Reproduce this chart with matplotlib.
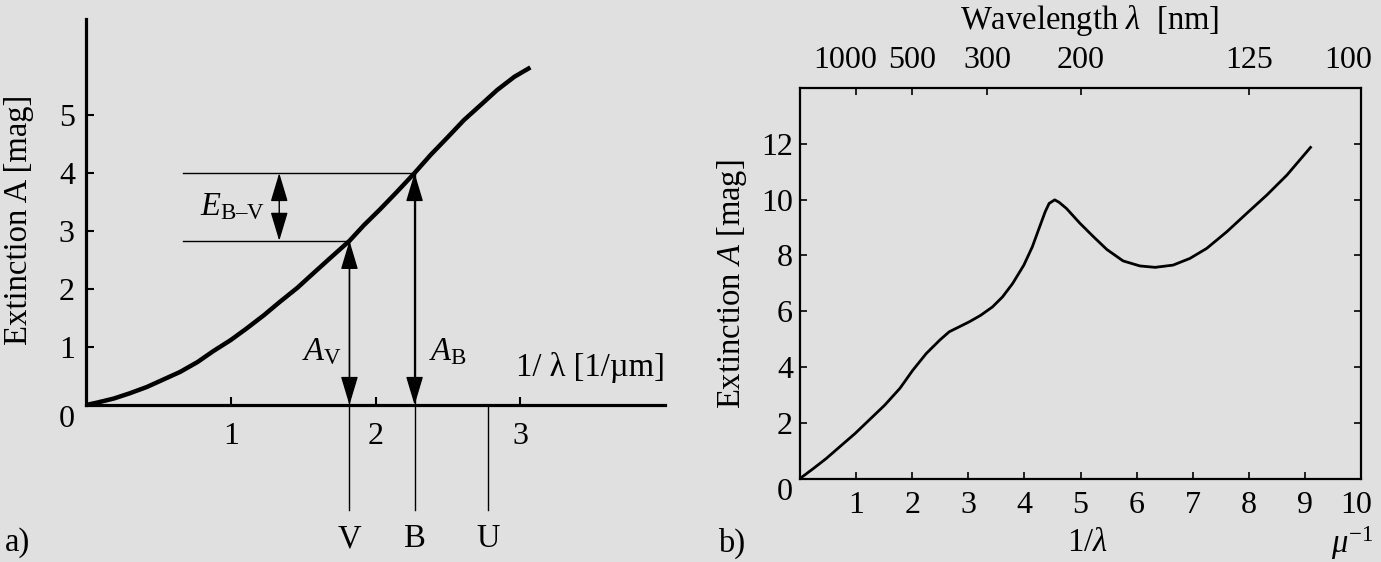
import matplotlib
matplotlib.use("Agg")
import matplotlib.pyplot as plt
from matplotlib.transforms import ScaledTranslation

# ---- data -------------------------------------------------------------
# a) schematic extinction curve A(1/lambda)
curve_a_x = [0.0, 0.074, 0.19, 0.30, 0.42, 0.535, 0.65, 0.77, 0.88, 1.0, 1.11, 1.23, 1.34, 1.46,
             1.57, 1.69, 1.82, 1.92, 2.03, 2.15, 2.27, 2.38, 2.50, 2.61, 2.73, 2.84, 2.96, 3.07]
curve_a_y = [0.0, 0.04, 0.11, 0.20, 0.31, 0.44, 0.57, 0.74, 0.93, 1.12, 1.32, 1.55, 1.78, 2.02,
             2.27, 2.54, 2.83, 3.10, 3.37, 3.68, 4.00, 4.31, 4.62, 4.91, 5.18, 5.43, 5.66, 5.82]

band_names = ["V", "B", "U"]
band_pos = [1.82, 2.27, 2.78]        # 1/lambda [1/um]
band_ext = [2.83, 4.00, None]        # A at the band (None: no arrow)
a_yticks = [0, 1, 2, 3, 4, 5]
a_xticks = [1, 2, 3]

# b) observed interstellar extinction curve
curve_b_x = [0.0, 0.24, 0.47, 0.71, 0.98, 1.24, 1.51, 1.78, 2.01, 2.25, 2.49, 2.66, 2.84, 3.02,
             3.22, 3.43, 3.61, 3.79, 3.99, 4.14, 4.26, 4.37, 4.44, 4.54, 4.62, 4.75, 4.99, 5.23,
             5.47, 5.76, 6.06, 6.33, 6.65, 6.95, 7.25, 7.61, 7.96, 8.32, 8.68, 9.10]
curve_b_y = [0.0, 0.36, 0.72, 1.14, 1.61, 2.11, 2.63, 3.23, 3.88, 4.48, 4.96, 5.26, 5.44, 5.62,
             5.85, 6.15, 6.51, 6.99, 7.65, 8.30, 8.96, 9.56, 9.86, 9.99, 9.90, 9.68, 9.15, 8.67,
             8.21, 7.80, 7.62, 7.57, 7.65, 7.89, 8.25, 8.85, 9.50, 10.16, 10.88, 11.87]
b_xticks = [1, 2, 3, 4, 5, 6, 7, 8, 9, 10]
b_yticks = [0, 2, 4, 6, 8, 10, 12]
wavelength_nm = [1000, 500, 300, 200, 125, 100]

# ---- style ------------------------------------------------------------
plt.rcParams["font.family"] = ["Liberation Serif", "DejaVu Serif"]
plt.rcParams["mathtext.fontset"] = "custom"
plt.rcParams["mathtext.rm"] = "Liberation Serif"
plt.rcParams["mathtext.it"] = "Liberation Serif:italic"
plt.rcParams["mathtext.bf"] = "Liberation Serif:bold"
FS = 23.5      # labels
TFS = 23       # tick labels
BG = "#e0e0e0"

W, H = 1381, 562
fig = plt.figure(figsize=(W / 100, H / 100), dpi=100, facecolor=BG)


def px_box(x0, y0, x1, y1):
    # pixel box (top-left origin) -> figure fraction rect
    return [x0 / W, 1 - y1 / H, (x1 - x0) / W, (y1 - y0) / H]


def nudge(label, dx_px):
    label.set_transform(label.get_transform()
                        + ScaledTranslation(dx_px / 100, 0, fig.dpi_scale_trans))


# ======================= panel a) =======================================
axL = fig.add_axes(px_box(86, 19, 665, 405))
axL.patch.set_visible(False)
axL.set_xlim(0, 4.0)
axL.set_ylim(0, (405 - 19) / 58)
for s in ("top", "right"):
    axL.spines[s].set_visible(False)
for s in ("left", "bottom"):
    axL.spines[s].set_linewidth(2.3)
axL.set_xticks(a_xticks)
axL.set_yticks(a_yticks)
axL.tick_params(axis="both", direction="in", length=6, width=1.5, labelsize=TFS)
axL.tick_params(axis="x", pad=12)
axL.tick_params(axis="y", pad=8)
axL.get_yticklabels()[0].set_va("top")

axL.plot(curve_a_x, curve_a_y, color="black", lw=3.2, solid_capstyle="butt")

arrow = dict(arrowstyle="<|-|>,head_length=0.9,head_width=0.27", mutation_scale=20,
             color="black", lw=1.0, shrinkA=0, shrinkB=0)

y_low = -1.81
for name, xb, ab in zip(band_names, band_pos, band_ext):
    top = ab if ab is not None else 0
    axL.plot([xb, xb], [y_low, top], color="black", lw=1.0, clip_on=False)
    if ab is not None:
        axL.annotate("", xy=(xb, ab), xytext=(xb, 0), arrowprops=arrow, annotation_clip=False)
    axL.text(xb, -2.31, name, fontsize=FS, ha="center", va="center", clip_on=False)

# horizontal guide lines and colour excess arrow
x_guide = 0.67
axL.plot([x_guide, band_pos[0]], [band_ext[0], band_ext[0]], color="black", lw=1.0)
axL.plot([x_guide, band_pos[1]], [band_ext[1], band_ext[1]], color="black", lw=1.0)
axL.annotate("", xy=(1.335, band_ext[1]), xytext=(1.335, band_ext[0]), arrowprops=arrow)

axL.text(1.24, 3.42, "$E_{\\mathrm{B–V}}$", fontsize=FS, ha="right", va="center")
axL.text(1.77, 0.91, r"$A_{\mathrm{V}}$", fontsize=FS, ha="right", va="center")
axL.text(2.37, 0.91, r"$A_{\mathrm{B}}$", fontsize=FS, ha="left", va="center")
axL.text(4.0, 0.64, "1/ λ [1/µm]", fontsize=FS, ha="right", va="center")

fig.text(19 / W, 1 - 220 / H, "Extinction A [mag]", fontsize=FS, rotation=90,
         ha="center", va="center")
fig.text(5 / W, 1 - 543 / H, "a)", fontsize=FS, ha="left", va="center")

# ======================= panel b) =======================================
axR = fig.add_axes(px_box(800, 88, 1361, 478.5))
axR.patch.set_visible(False)
axR.set_xlim(0, 10)
axR.set_ylim(0, 14)
for s in axR.spines.values():
    s.set_linewidth(1.6)
axR.set_xticks(b_xticks)
axR.set_yticks(b_yticks)
axR.tick_params(axis="both", direction="in", length=5, width=1.2, labelsize=TFS,
                right=True)
axR.tick_params(axis="x", pad=9)
axR.tick_params(axis="y", pad=5)
axR.get_yticklabels()[0].set_va("top")
nudge(axR.get_xticklabels()[-1], -5)

axR.plot(curve_b_x, curve_b_y, color="black", lw=2.0)

axT = axR.twiny()
axT.set_xlim(axR.get_xlim())
axT.set_xticks([1000 / w for w in wavelength_nm])
axT.set_xticklabels([str(w) for w in wavelength_nm])
axT.tick_params(axis="x", direction="in", length=5, width=1.2, labelsize=TFS, pad=9)
for s in axT.spines.values():
    s.set_visible(False)
top_labels = axT.get_xticklabels()
nudge(top_labels[0], -11)
nudge(top_labels[-1], -13)

fig.text(1090 / W, 1 - 20 / H, r"Wavelength $\lambda$  [nm]", fontsize=FS,
         ha="center", va="center")
fig.text(732 / W, 1 - 284 / H, r"Extinction $A$ [mag]", fontsize=FS, rotation=90,
         ha="center", va="center")
fig.text(1087 / W, 1 - 543 / H, r"1/$\lambda$", fontsize=FS, ha="center", va="center")
fig.text(1352 / W, 1 - 543 / H, r"$\mu^{-1}$", fontsize=FS, ha="center", va="center")
fig.text(718 / W, 1 - 543 / H, "b)", fontsize=FS, ha="left", va="center")

fig.savefig("out.png", dpi=100, facecolor=BG)
